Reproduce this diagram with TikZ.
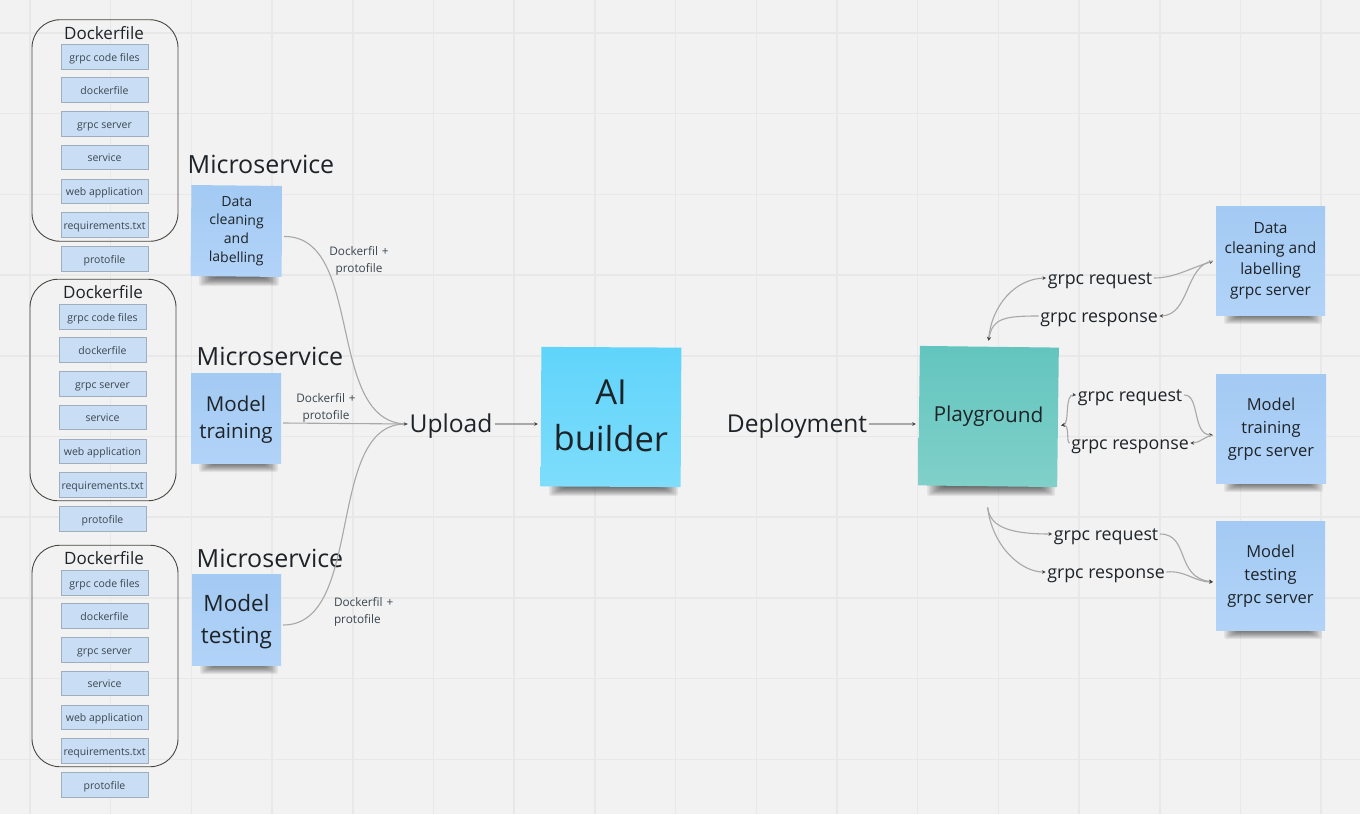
\documentclass[tikz,border=0pt]{standalone}
\usepackage{fontspec}
\setmainfont{Open Sans}
\usetikzlibrary{arrows.meta}
\definecolor{bgc}{HTML}{F2F2F2}
\definecolor{gridc}{HTML}{E8E8E8}
\definecolor{itemc}{HTML}{C9DEF4}
\definecolor{itemb}{HTML}{9FAEBE}
\definecolor{inkc}{HTML}{1E2328}
\definecolor{smallc}{HTML}{3A4650}
\definecolor{linkc}{HTML}{A8A8A8}
\definecolor{tipc}{HTML}{444444}
\definecolor{boundc}{HTML}{4A4640}
\newcommand{\fsz}[1]{\fontsize{#1}{#1}\selectfont\setlength{\baselineskip}{1.33\baselineskip}}
\newcommand{\lift}[2]{\raisebox{#1}[\height][\depth]{#2}}
\newcommand{\noteshade}[3]{%
  \foreach \k in {0,...,11}{
    \fill[black,opacity=0.062,rounded corners=2pt]
      ({#1+8+\k*1.5},{#3-3}) rectangle ({#2-3-\k*1.5},{#3+9-\k*0.85});
  }}
\definecolor{bluetop}{HTML}{A3CAF3}
\definecolor{bluebot}{HTML}{B2D3F8}
\definecolor{aitop}{HTML}{60D4FB}
\definecolor{aibot}{HTML}{7EDDFB}
\definecolor{pgtop}{HTML}{63C5BF}
\definecolor{pgbot}{HTML}{80D0C9}
\tikzset{
  x=1pt,y=-1pt,
  itembox/.style={draw=itemb,line width=0.8pt,fill=itemc,minimum width=87pt,minimum height=24.5pt,inner sep=0pt,text=smallc,font=\fsz{10.5},text height=9.5pt,text depth=1.5pt},
  container/.style={draw=boundc,line width=0.9pt,rounded corners=28pt,minimum width=146pt,minimum height=221.5pt,inner sep=0pt},
  noteblue/.style={top color=bluetop,bottom color=bluebot,inner sep=0pt,align=center,text=inkc},
  heading/.style={text=inkc,inner sep=0pt,font=\fsz{25}},
  dockhead/.style={text=inkc,inner sep=0pt,font=\fsz{17}},
  small/.style={text=smallc,inner sep=0pt,align=center,font=\fsz{11.8},text width=80pt},
  biglabel/.style={text=inkc,inner sep=2pt,font=\fsz{24.6},text height=18pt,text depth=1pt},
  grpclabel/.style={text=inkc,inner sep=1.5pt,font=\fsz{17.8},text height=12.5pt,text depth=0.5pt},
  link/.style={draw=linkc,line width=1.1pt},
  tipped/.style={link,-{Stealth[length=3.6pt,width=3.6pt,color=tipc]}},
  bothtip/.style={link,{Stealth[length=3.6pt,width=3.6pt,color=tipc]}-{Stealth[length=3.6pt,width=3.6pt,color=tipc]}},
}
\begin{document}
\begin{tikzpicture}
\useasboundingbox (0,0) rectangle (1360,814);
\fill[bgc] (0,0) rectangle (1360,814);
\foreach \i in {0,...,16}{ \draw[gridc,line width=1.5pt] ({30+\i*80.7},0) -- ({30+\i*80.7},814); }
\foreach \i in {0,...,9}{ \draw[gridc,line width=1.5pt] (0,{33+\i*80.7}) -- (1360,{33+\i*80.7}); }

% containers
\node[container] (c1) at (105,130.5) {};
\node[container] (c2) at (103,390) {};
\node[container] (c3) at (105,656) {};
\node[dockhead] (h1) at (104,33) {Dockerfile};
\node[dockhead] (h2) at (103,292) {Dockerfile};
\node[dockhead] (h3) at (104,558) {Dockerfile};

% item boxes
\node[itembox] (a1) at (104.5,57) {grpc code files};
\node[itembox] (a2) at (104.5,90) {dockerfile};
\node[itembox] (a3) at (104.5,124) {grpc server};
\node[itembox] (a4) at (104.5,157.5) {service};
\node[itembox] (a5) at (104.5,191.5) {web application};
\node[itembox] (a6) at (104.5,225) {requirements.txt};
\node[itembox] (a7) at (104.5,259) {protofile};
\node[itembox] (b1) at (102.5,317) {grpc code files};
\node[itembox] (b2) at (102.5,350) {dockerfile};
\node[itembox] (b3) at (102.5,384) {grpc server};
\node[itembox] (b4) at (102.5,417.5) {service};
\node[itembox] (b5) at (102.5,451.5) {web application};
\node[itembox] (b6) at (102.5,485) {requirements.txt};
\node[itembox] (b7) at (102.5,519) {protofile};
\node[itembox] (d1) at (104.5,583) {grpc code files};
\node[itembox] (d2) at (104.5,616) {dockerfile};
\node[itembox] (d3) at (104.5,650) {grpc server};
\node[itembox] (d4) at (104.5,683.5) {service};
\node[itembox] (d5) at (104.5,717.5) {web application};
\node[itembox] (d6) at (104.5,751) {requirements.txt};
\node[itembox] (d7) at (104.5,785) {protofile};

% shadows
\noteshade{191}{282}{277}
\noteshade{191}{281}{463}
\noteshade{192}{281}{665}
\noteshade{541}{681}{487}
\noteshade{919}{1058}{487}
\noteshade{1216}{1325}{315}
\noteshade{1216}{1326}{483}
\noteshade{1216}{1325}{630}

% headings
\node[heading] (m1) at (261,164) {Microservice};
\node[heading] (m2) at (270,356) {Microservice};
\node[heading] (m3) at (270,558) {Microservice};

% left notes
\node[noteblue,rotate=-0.6,minimum width=91pt,minimum height=91pt,font=\fsz{14}] (s1) at (236.5,231) {Data\\cleaning\\and\\labelling};
\node[noteblue,minimum width=90pt,minimum height=90pt,font=\fsz{20.5}] (s2) at (236,418) {\lift{-2pt}{Model}\\\lift{-2pt}{training}};
\node[noteblue,minimum width=89pt,minimum height=91pt,font=\fsz{22.5}] (s3) at (236.5,619.5) {\lift{-2pt}{Model}\\[2.5pt]\lift{-2pt}{testing}};

% centre
\node[biglabel] (up) at (451,424) {Upload};
\node[biglabel] (dep) at (797,424) {Deployment};
\node[top color=aitop,bottom color=aibot,rotate=-0.3,minimum width=140pt,minimum height=139.5pt,inner sep=0pt,align=center,text=inkc,font=\fsz{34.5}] (ai) at (611,417) {\lift{1.5pt}{AI}\\[1pt]\lift{1.5pt}{builder}};
\node[top color=pgtop,bottom color=pgbot,rotate=-0.7,minimum width=139pt,minimum height=139.5pt,inner sep=0pt,text=inkc,font=\fsz{20.7}] (pg) at (988.5,416.5) {Playground};

% right notes
\node[noteblue,minimum width=109pt,minimum height=109pt,font=\fsz{15.5}] (r1) at (1270.5,260.5) {Data\\cleaning and\\labelling\\grpc server};
\node[noteblue,minimum width=110pt,minimum height=109pt,font=\fsz{16.5}] (r2) at (1271,428.5) {\lift{-1pt}{Model}\\[1pt]\lift{-1pt}{training}\\[1pt]\lift{-1pt}{grpc server}};
\node[noteblue,minimum width=109pt,minimum height=109pt,font=\fsz{16.5}] (r3) at (1270.5,575.5) {\lift{-1pt}{Model}\\[1pt]\lift{-1pt}{testing}\\[1pt]\lift{-1pt}{grpc server}};

% grpc labels
\node[grpclabel] (q1) at (1100,278) {grpc request};
\node[grpclabel] (p1) at (1099,316) {grpc response};
\node[grpclabel] (q2) at (1130,395) {grpc request};
\node[grpclabel] (p2) at (1130,443) {grpc response};
\node[grpclabel] (q3) at (1106,534) {grpc request};
\node[grpclabel] (p3) at (1106,572) {grpc response};

% small labels
\node[small] (t1) at (359,261) {Dockerfil +\\[1.5pt]protofile};
\node[small] (t2) at (326,407.5) {Dockerfil +\\[1.5pt]protofile};
\node[small,align=left,text width=62pt] (t3) at (365,612) {Dockerfil +\\[1.5pt]protofile};

% left connectors
\draw[link] ([shift={(2pt,-5pt)}]s1.east) .. controls (365,236) and (325,424) .. (up.west);
\draw[link] ([xshift=2pt,yshift=-5pt]s2.east) -- (up.west);
\draw[tipped] ([xshift=2pt,yshift=-5.5pt]s3.east) .. controls (365,625) and (325,424) .. (up.west);
\draw[tipped,shorten >=3pt] (up.east) -- (ai.west |- up.east);
\draw[tipped,shorten >=3pt] (dep.east) -- (pg.west |- dep.east);

% top group
\coordinate (pgt) at ([xshift=-1.5pt]pg.north);
\draw[bothtip,shorten <=6pt] (pgt) .. controls (992,305) and (1015,279) .. (q1.west);
\draw[tipped,shorten >=6pt] (p1.west) .. controls (1005,316) and (992,318) .. (pgt);
\draw[tipped,shorten >=3pt] (q1.east) .. controls (1175,278) and (1190,268) .. (r1.west);
\draw[tipped,shorten <=3pt] (r1.west) .. controls (1185,265) and (1190,315) .. (p1.east);

% middle group
\coordinate (pgr) at ([shift={(3pt,-8pt)}]pg.east);
\coordinate (r2l) at ([yshift=-6.5pt]r2.west);
\draw[bothtip] (pgr) .. controls (1070,424) and (1064,394) .. (q2.west);
\draw[tipped] (p2.west) .. controls (1066,443) and (1070,424) .. (pgr);
\draw[tipped,shorten >=3pt] (q2.east) .. controls (1200,394) and (1192,435) .. (r2l);
\draw[tipped,shorten <=3pt] (r2l) .. controls (1205,436) and (1200,443) .. (p2.east);

% bottom group
\coordinate (pgb) at ([yshift=-21pt]pg.south);
\draw[tipped] (pgb) .. controls (990,525) and (1005,534) .. (q3.west);
\draw[tipped] (pgb) .. controls (992,545) and (1020,572) .. (p3.west);
\draw[tipped,shorten >=3pt] (q3.east) .. controls (1190,534) and (1175,578) .. ([yshift=-6.5pt]r3.west);
\draw[tipped,shorten >=3pt] (p3.east) .. controls (1185,570) and (1195,582) .. ([yshift=-6.5pt]r3.west);
\end{tikzpicture}
\end{document}
